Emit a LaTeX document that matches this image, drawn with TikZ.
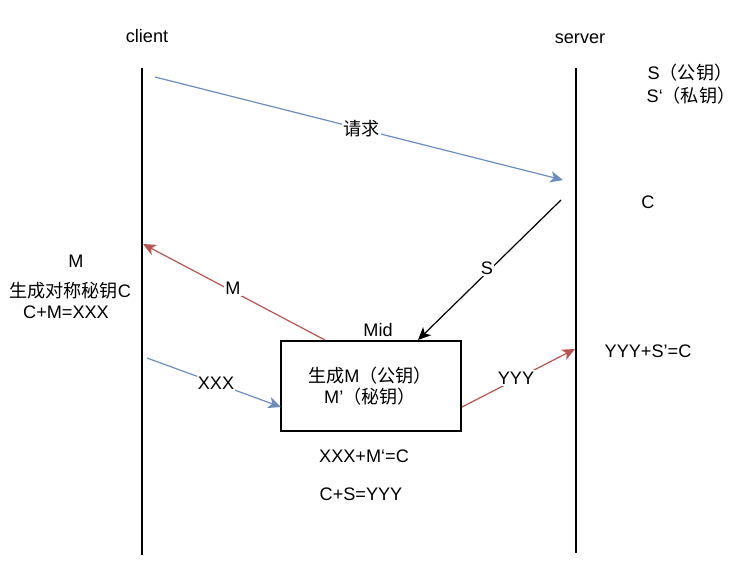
\documentclass[tikz,border=0pt]{standalone}
\usepackage{fontspec}
\setmainfont{Liberation Sans}
\newfontfamily\cjk{Noto Sans CJK SC}
\usetikzlibrary{arrows.meta}
\definecolor{blueline}{HTML}{6C8EBF}
\definecolor{redline}{HTML}{B85450}
\tikzset{
  lbl/.style={font=\fontsize{13.6pt}{15.5pt}\selectfont, inner sep=1pt, text=black},
  lblbg/.style={lbl, fill=white},
  life/.style={draw=black, line width=0.9pt},
  msg/.style={line width=0.9pt, -{Stealth[length=9.5pt,width=8.5pt,inset=2.5pt]}},
}
\begin{document}
\begin{tikzpicture}[x=0.75pt,y=-0.75pt]
\useasboundingbox (0,0) rectangle (756,583);
% lifelines
\coordinate (c1) at (142,68); \coordinate (c2) at (142,555);
\coordinate (s1) at (576,68); \coordinate (s2) at (576,553);
\draw[life] (c1) -- (c2);
\draw[life] (s1) -- (s2);
\node[lbl] (client) at (147,36) {client};
\node[lbl] (server) at (580,39) {server};
% server key texts
\node[lbl] (spub) at (690,73) {S{\cjk （公钥）}};
\node[lbl] (spriv) at (691,96) {S‘{\cjk （私钥）}};
\node[lbl] (cC) at (648,202) {C};
% request
\coordinate (r1) at (155,77); \coordinate (r2) at (563,180);
\draw[msg, blueline] (r1) -- (r2) node[lblbg, pos=0.506] (req) {\cjk 请求};
% Mid box
\node[draw=black, line width=0.9pt, minimum width=135pt, minimum height=67.5pt, inner sep=0pt] (mid) at (371,386) {};
\node[lbl] (midt) at (378,330) {Mid};
\node[lbl, align=center] (midtxt) at (370,386) {{\cjk 生成}M{\cjk （公钥）}\\M’{\cjk （秘钥）}};
% S arrow
\coordinate (sa1) at (561,200); \coordinate (sa2) at (418,340);
\draw[msg, black] (sa1) -- (sa2);
\node[lblbg] (slbl) at (487,268) {S};
% M arrow
\coordinate (ma1) at (325,340); \coordinate (ma2) at (143,244);
\draw[msg, redline] (ma1) -- (ma2);
\node[lblbg] (mlbl) at (233,288) {M};
% client texts
\node[lbl] (cm) at (76,261) {M};
\node[lbl] (cgen) at (70,291) {{\cjk 生成对称秘钥}C};
\node[lbl] (ccm) at (66,312) {C+M=XXX};
% XXX arrow
\coordinate (x1) at (147,358); \coordinate (x2) at (281,407);
\draw[msg, blueline] (x1) -- (x2);
\node[lblbg] (xlbl) at (216,383) {XXX};
% YYY arrow
\coordinate (y1) at (462,407); \coordinate (y2) at (575,349);
\draw[msg, redline] (y1) -- (y2);
\node[lblbg] (ylbl) at (516,378) {YYY};
\node[lbl] (ys) at (648,351) {YYY+S’=C};
% under box
\node[lbl] (xm) at (364,456) {XXX+M‘=C};
\node[lbl] (cs) at (361,494) {C+S=YYY};
\end{tikzpicture}
\end{document}
